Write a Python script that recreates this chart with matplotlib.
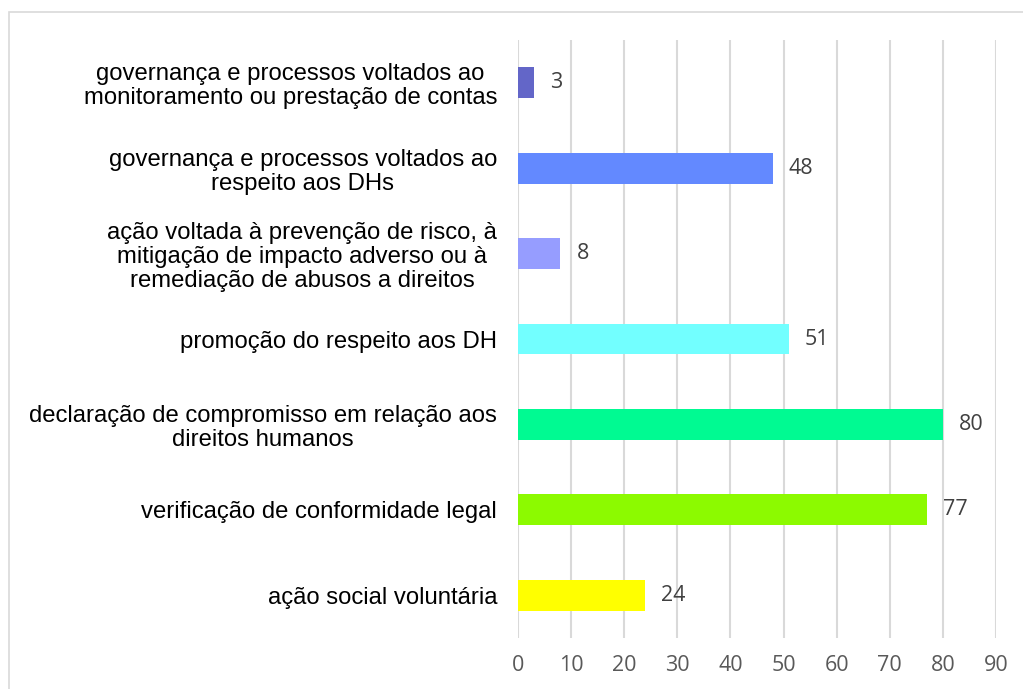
import matplotlib.pyplot as plt
from matplotlib.patches import Rectangle

categories = [
    "governança e processos voltados ao\nmonitoramento ou prestação de contas",
    "governança e processos voltados ao\nrespeito aos DHs",
    "ação voltada à prevenção de risco, à\nmitigação de impacto adverso ou à\nremediação de abusos a direitos",
    "promoção do respeito aos DH",
    "declaração de compromisso em relação aos\ndireitos humanos",
    "verificação de conformidade legal",
    "ação social voluntária",
]
values = [3, 48, 8, 51, 80, 77, 24]
colors = ["#6366C8", "#6389FF", "#969DFF", "#72FFFF", "#00FA92", "#8CFA00", "#FFFF00"]
xticks = [0, 10, 20, 30, 40, 50, 60, 70, 80, 90]


def main():
    fig = plt.figure(figsize=(10.23, 6.89), dpi=100)
    fig.patches.append(Rectangle((9 / 1023, -0.1), 1.1, 1 - 12 / 689 + 0.1,
                                 transform=fig.transFigure, fill=False,
                                 edgecolor="#D9D9D9", linewidth=1.2))
    ax = fig.add_axes([518 / 1023, 1 - 638 / 689, 478 / 1023, 598 / 689])

    ypos = list(range(len(categories)))
    ax.barh(ypos, values, height=0.36, color=colors, zorder=3)
    for y, v in zip(ypos, values):
        ax.text(v + 3, y, str(v), va="center", ha="left",
                fontsize=15.5, family="Open Sans", color="#404040")

    ax.set_xlim(0, 90)
    ax.set_ylim(len(categories) - 0.5, -0.5)
    ax.set_xticks(xticks)
    ax.set_yticks(ypos)
    ax.set_yticklabels(categories, fontsize=17.2, family="Liberation Sans",
                       multialignment="center", linespacing=1.13)
    for t in ax.get_xticklabels():
        t.set_family("Open Sans")
        t.set_fontsize(15.5)
        t.set_color("#595959")
    ax.tick_params(axis="y", length=0, pad=15)
    ax.tick_params(axis="x", length=0, pad=12)
    ax.grid(axis="x", color="#D9D9D9", linewidth=1.5, zorder=0)
    for s in ax.spines.values():
        s.set_visible(False)

    fig.savefig("out.png", dpi=100)


if __name__ == "__main__":
    main()
